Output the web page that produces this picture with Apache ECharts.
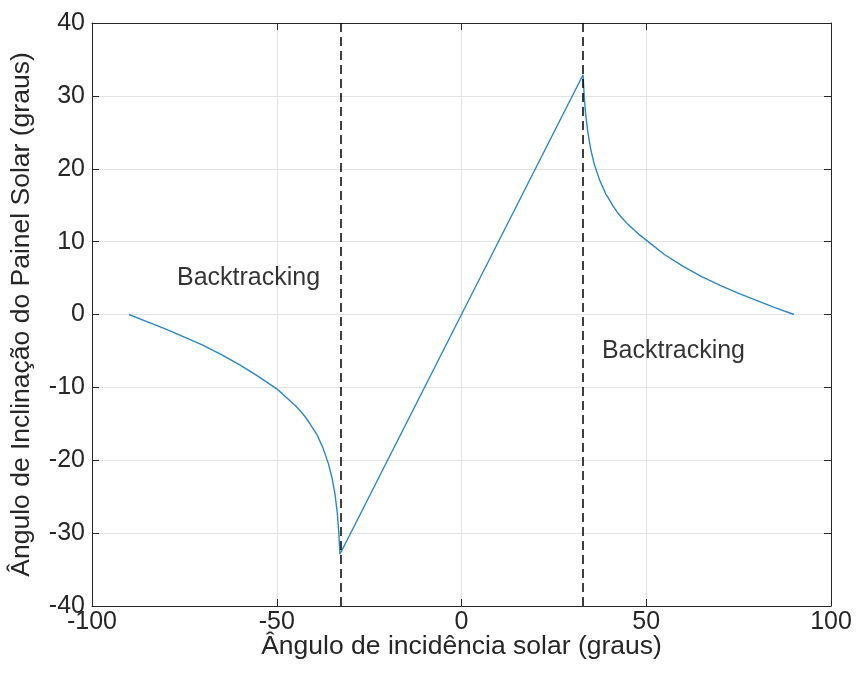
<!DOCTYPE html>
<html>
<head>
<meta charset="utf-8">
<script src="https://cdn.jsdelivr.net/npm/echarts@6/dist/echarts.min.js"></script>
<style>
  html, body { margin: 0; padding: 0; background: #fff; }
  #chart { width: 856px; height: 682px; }
</style>
</head>
<body>
<div id="chart"></div>
<script>
// backtracking branch, sun on the left
var leftX = [-90, -85, -80, -75, -70, -65, -60, -55, -50, -48, -46.5, -45, -43.5, -42.2, -41, -39, -37.5, -36, -35, -34.2, -33.6, -33.2, -32.9];
var leftY = [0, -1.0, -2.0, -3.1, -4.2, -5.5, -6.9, -8.5, -10.2, -11.1, -11.8, -12.5, -13.3, -14.1, -15.0, -16.6, -18.3, -20.5, -22.5, -24.8, -27.3, -30.0, -32.9];
// normal tracking (straight line)
var trackX = [-32.9, 0, 32.9];
var trackY = [-32.9, 0, 32.9];
// backtracking branch, sun on the right
var rightX = [32.9, 33.2, 33.6, 34.2, 35, 36, 37.5, 39, 41, 42.2, 43.5, 45, 46.5, 48, 50, 55, 60, 65, 70, 75, 80, 85, 90];
var rightY = [32.9, 30.0, 27.5, 25.0, 22.6, 20.5, 18.3, 16.6, 14.9, 14.0, 13.2, 12.4, 11.7, 11.0, 10.2, 8.2, 6.6, 5.2, 4.0, 2.9, 1.9, 0.9, 0];
// limits of the backtracking zones (dashed lines)
var limitX = [-32.8, 32.8];
// annotation texts
var noteX = [-77, 38];
var noteY = [5, -5];
var noteText = ["Backtracking", "Backtracking"];

var xTicks = { min: -100, max: 100, interval: 50 };
var yTicks = { min: -40, max: 40, interval: 10 };

var curve = [];
[[leftX, leftY], [trackX, trackY], [rightX, rightY]].forEach(function (part, k) {
  part[0].forEach(function (x, i) {
    if (k > 0 && i === 0) return; // skip repeated junction point
    curve.push([x, part[1][i]]);
  });
});

var notes = noteX.map(function (x, i) {
  return { value: [x, noteY[i]], name: noteText[i] };
});

var font = "'Liberation Sans', Arial, sans-serif";
var ink = "#262626";

var myChart = echarts.init(document.getElementById("chart"));
myChart.setOption({
  animation: false,
  textStyle: { fontFamily: font },
  grid: { left: 92, right: 25, top: 23, bottom: 76 },
  xAxis: [
    {
      type: "value",
      min: xTicks.min, max: xTicks.max, interval: xTicks.interval,
      name: "Ângulo de incidência solar (graus)",
      nameLocation: "middle",
      nameGap: 27,
      nameMoveOverlap: false,
      nameTextStyle: { color: ink, fontSize: 26.5, fontFamily: font },
      axisLine: { onZero: false, lineStyle: { color: ink, width: 1 } },
      axisTick: { inside: true, length: 7, lineStyle: { color: ink } },
      axisLabel: { color: ink, fontSize: 25, fontFamily: font, margin: 4 },
      splitLine: { show: true, lineStyle: { color: "#e2e2e2", width: 1 } }
    },
    {
      type: "value", position: "top",
      min: xTicks.min, max: xTicks.max, interval: xTicks.interval,
      axisLine: { onZero: false, lineStyle: { color: ink, width: 1 } },
      axisTick: { inside: true, length: 7, lineStyle: { color: ink } },
      axisLabel: { show: false },
      splitLine: { show: false }
    }
  ],
  yAxis: [
    {
      type: "value",
      min: yTicks.min, max: yTicks.max, interval: yTicks.interval,
      name: "Ângulo de Inclinação do Painel Solar (graus)",
      nameLocation: "middle",
      nameGap: 57,
      nameMoveOverlap: false,
      nameTextStyle: { color: ink, fontSize: 26.5, fontFamily: font },
      axisLine: { onZero: false, lineStyle: { color: ink, width: 1 } },
      axisTick: { inside: true, length: 7, lineStyle: { color: ink } },
      axisLabel: { color: ink, fontSize: 25, fontFamily: font, margin: 7 },
      splitLine: { show: true, lineStyle: { color: "#e2e2e2", width: 1 } }
    },
    {
      type: "value", position: "right",
      min: yTicks.min, max: yTicks.max, interval: yTicks.interval,
      axisLine: { onZero: false, lineStyle: { color: ink, width: 1 } },
      axisTick: { inside: true, length: 7, lineStyle: { color: ink } },
      axisLabel: { show: false },
      splitLine: { show: false }
    }
  ],
  series: [
    {
      type: "line",
      data: curve,
      showSymbol: false,
      smooth: false,
      lineStyle: { color: "#2a86c4", width: 1.4 },
      markLine: {
        silent: true,
        symbol: "none",
        label: { show: false },
        lineStyle: { color: "#000", type: [9, 5], width: 1.5 },
        data: limitX.map(function (x) { return { xAxis: x }; })
      },
      z: 3
    },
    {
      type: "scatter",
      data: notes,
      symbolSize: 0,
      silent: true,
      label: {
        show: true,
        position: "right",
        distance: 0,
        formatter: "{b}",
        color: "#000",
        fontSize: 25,
        fontFamily: font
      }
    }
  ]
});
</script>
</body>
</html>
